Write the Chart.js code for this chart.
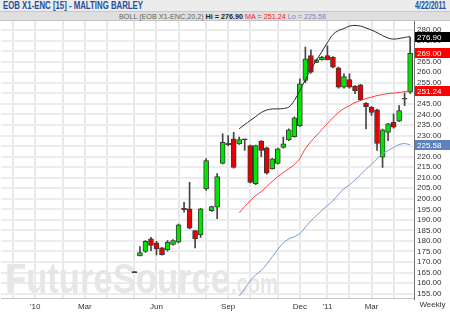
<!DOCTYPE html>
<html>
<head>
<meta charset="utf-8">
<script src="https://cdn.jsdelivr.net/npm/chart.js@4.4.1/dist/chart.umd.min.js"></script>
<style>
  html, body { margin: 0; padding: 0; background: #fff; }
  #wrap { position: relative; width: 450px; height: 312px; overflow: hidden; font-family: Arial, "Liberation Sans", sans-serif; }
  #wrap canvas { position: absolute; left: 0; top: 0; }
  .bar1 { position: absolute; left: 0; top: 0; width: 450px; height: 11px; background: #ececec; border-bottom: 1px solid #c8c8c8; }
  .bar2 { position: absolute; left: 0; top: 12px; width: 450px; height: 8px; background: #dfdfdf; border-bottom: 1px solid #c4c4c4; }
  .fit { position: absolute; white-space: nowrap; transform-origin: 0 50%; }
  #title, #date { top: 0; height: 12px; line-height: 12px; font-weight: bold; font-size: 10px; color: #1f4f9f; }
  #sub { top: 12px; height: 9px; line-height: 9px; font-size: 7px; color: #666; }
  #weekly { position: absolute; left: 415px; width: 35px; top: 300px; text-align: center; font-size: 8px; color: #333; }
</style>
</head>
<body>
<div id="wrap">
  <canvas id="chart" width="450" height="312"></canvas>
  <div class="bar1"></div>
  <div class="bar2"></div>
  <div class="fit" id="title" data-x="3" data-w="140">EOB X1-ENC [15] - MALTING BARLEY</div>
  <div class="fit" id="date" data-x="415" data-w="31">4/22/2011</div>
  <div class="fit" id="sub" data-x="119" data-w="207">BOLL (EOB X1-ENC,20,2) <b style="color:#222">Hi = 276.90</b> <span style="color:#f02020">MA = 251.24</span> <span style="color:#6a8cc6">Lo = 225.58</span></div>
  <div id="weekly">Weekly</div>
</div>
<script>
// weekly candles, first one is the week of 2010-05-07 (week 0 = 2010-01-01)
const firstWeek = 18;

const opens = [165.5, 172.9, 175.0, 181.0, 179.1, 176.7, 175.9, 178.3, 179.4, 195.5,
    195.2, 184.9, 182.9, 204.7, 194.3, 196.0, 216.8, 226.3, 228.4, 226.0,
    228.3, 225.2, 207.1, 227.3, 224.1, 214.2, 216.8, 224.4, 227.9, 229.5,
    234.7, 256.1, 267.9, 264.7, 266.0, 267.9, 267.1, 262.1, 252.9, 256.5,
    253.4, 254.0, 245.3, 243.4, 242.2, 219.7, 231.5, 236.3, 236.8, 247.6,
    250.5];
const highs = [165.5, 177.3, 180.2, 181.7, 179.8, 177.0, 180.2, 180.6, 188.0, 198.3,
    207.8, 185.0, 195.5, 219.0, 196.5, 212.0, 230.8, 230.0, 231.5, 229.2,
    228.3, 225.5, 225.5, 227.6, 224.5, 219.2, 224.0, 229.2, 233.2, 238.8,
    256.9, 271.9, 270.6, 266.2, 267.5, 272.5, 267.4, 262.4, 259.2, 259.2,
    253.7, 254.3, 245.6, 243.7, 242.5, 233.0, 235.8, 240.3, 244.2, 250.2,
    276.5];
const lows = [165.0, 172.9, 174.6, 175.4, 173.4, 173.3, 175.2, 178.0, 179.0, 193.6,
    185.7, 176.7, 181.7, 203.9, 194.0, 190.5, 216.5, 225.0, 214.5, 225.8,
    222.9, 207.5, 206.7, 220.0, 211.7, 214.0, 216.5, 224.0, 227.5, 229.2,
    234.3, 255.0, 259.5, 264.5, 265.7, 265.8, 262.0, 252.5, 252.5, 252.5,
    249.8, 246.5, 233.1, 239.5, 222.9, 214.9, 227.6, 233.5, 236.5, 244.2,
    250.0];
const closes = [165.0, 174.5, 179.8, 177.9, 176.2, 173.5, 179.4, 180.2, 187.6, 194.8,
    186.0, 181.0, 195.2, 218.1, 196.3, 210.5, 226.8, 225.7, 214.9, 228.1,
    227.9, 207.8, 225.2, 222.9, 212.1, 218.9, 223.7, 226.0, 232.7, 238.4,
    254.5, 266.4, 260.0, 265.9, 267.1, 266.0, 262.4, 252.9, 258.0, 252.9,
    251.3, 247.0, 243.7, 241.0, 226.3, 232.7, 235.5, 233.9, 241.8, 247.2,
    269.0];

// Bollinger (20,2) starts at the 20th candle
const bandStart = 19;
const upperBand = [233.2, 235.2, 237.1, 239.0, 240.9, 242.1, 242.6, 242.6, 242.8, 243.5,
    246.6, 251.3, 256.5, 261.3, 265.6, 269.8, 274.1, 277.9, 279.8, 280.7,
    281.9, 282.2, 281.9, 281.0, 280.0, 278.8, 277.4, 276.2, 275.7, 276.0,
    276.5, 276.90];
const maBand = [193.4, 196.3, 199.1, 201.5, 203.4, 205.8, 208.2, 210.5, 212.4, 214.3,
    216.2, 219.1, 223.8, 227.1, 230.0, 232.8, 235.7, 238.5, 240.9, 242.8,
    244.2, 245.6, 246.6, 247.5, 248.2, 248.9, 249.4, 249.9, 250.1, 250.4,
    250.8, 251.24];
const lowerBand = [153.8, 157.4, 161.1, 164.0, 166.0, 169.0, 172.5, 176.0, 179.0, 181.0,
    182.0, 183.5, 186.5, 189.5, 192.0, 194.5, 196.8, 199.0, 202.0, 204.9,
    206.5, 209.0, 211.3, 214.0, 216.4, 219.0, 221.4, 222.9, 224.3, 225.7,
    226.2, 225.58];

// x axis: month starts (week numbers) and their labels
const monthWeeks = [-4, 0, 5, 9, 13, 18, 22, 26, 31, 35, 39, 44, 48, 53, 57, 61, 65];
const monthLabels = ['', "'10", '', 'Mar', '', '', 'Jun', '', '', 'Sep', '', '', 'Dec', "'11", '', 'Mar', ''];

const yTicks = [155, 160, 165, 170, 175, 180, 185, 190, 195, 200, 205, 210, 215,
    220, 225, 230, 235, 240, 245, 250, 255, 260, 265, 270, 275, 280];

const week = i => firstWeek + i;

const bodies = opens.map((o, i) => ({ x: week(i), y: [o, closes[i]] }));
const wicks = highs.map((h, i) => ({ x: week(i), y: [lows[i], h] }));
const bodyColors = opens.map((o, i) => {
    if (Math.abs(closes[i] - o) < 0.6) return "#333333";
    return closes[i] > o ? "#00e400" : "#e80000";
});

const band = arr => arr.map((v, i) => ({ x: week(bandStart + i), y: v }));

const last = arr => arr[arr.length - 1];
const markers = [
    { value: last(upperBand), color: "#000000" },
    { value: last(closes), color: "#ff0000" },
    { value: last(maBand), color: "#ff0000" },
    { value: last(lowerBand), color: "#5f82bd" }
];

function drawFitted(ctx, text, font, x, y, width) {
    ctx.font = font;
    const w = ctx.measureText(text).width;
    ctx.save();
    ctx.translate(x, y);
    ctx.scale(width / w, 1);
    ctx.fillText(text, 0, 0);
    ctx.restore();
}

const extras = {
    id: "extras",
    beforeDatasetsDraw(chart) {
        const ctx = chart.ctx;
        const a = chart.chartArea;
        ctx.save();
        ctx.beginPath();
        ctx.rect(a.left, a.top, a.right - a.left, a.bottom - a.top);
        ctx.clip();
        ctx.fillStyle = "#e6e6e6";
        ctx.textBaseline = "alphabetic";
        ctx.textAlign = "left";
        drawFitted(ctx, "FutureSource", "bold 42px Arial", 5, 293, 225);
        drawFitted(ctx, ".com", "bold 28px Arial", 231, 293, 47);
        ctx.restore();
    },
    afterDraw(chart) {
        const ctx = chart.ctx;
        const y = chart.scales.y;
        ctx.save();
        ctx.font = "8px Arial";
        ctx.textBaseline = "middle";
        ctx.textAlign = "left";
        markers.forEach(m => {
            const py = Math.round(y.getPixelForValue(m.value));
            ctx.fillStyle = m.color;
            ctx.fillRect(415, py - 5, 35, 10);
            ctx.fillStyle = "#ffffff";
            ctx.fillText(m.value.toFixed(2), 417, py + 0.5);
        });
        ctx.restore();
    }
};

Chart.defaults.font.family = "Arial, 'Liberation Sans', sans-serif";

new Chart(document.getElementById("chart"), {
    type: "bar",
    data: {
        datasets: [
            {
                type: "line",
                data: band(upperBand),
                borderColor: "#2a2a2a",
                borderWidth: 1,
                pointRadius: 0,
                tension: 0.3,
                order: 1
            },
            {
                type: "line",
                data: band(maBand),
                borderColor: "#ff3a3a",
                borderWidth: 1,
                pointRadius: 0,
                tension: 0.3,
                order: 1
            },
            {
                type: "line",
                data: band(lowerBand),
                borderColor: "#7b9ad0",
                borderWidth: 1,
                pointRadius: 0,
                tension: 0.3,
                order: 1
            },
            {
                data: bodies,
                backgroundColor: bodyColors,
                borderColor: "#3a3a3a",
                borderWidth: 1,
                borderSkipped: false,
                barThickness: 5,
                minBarLength: 1,
                grouped: false,
                order: 2
            },
            {
                data: wicks,
                backgroundColor: "#444444",
                borderWidth: 0,
                barThickness: 1,
                grouped: false,
                order: 3
            }
        ]
    },
    options: {
        responsive: false,
        animation: false,
        layout: { padding: { left: 1, top: 21, right: 0, bottom: 0 } },
        plugins: {
            legend: { display: false },
            tooltip: { enabled: false }
        },
        scales: {
            x: {
                type: "linear",
                min: -6.2,
                max: 68.7,
                offset: false,
                afterBuildTicks: scale => {
                    scale.ticks = monthWeeks.map(v => ({ value: v }));
                },
                afterFit: scale => { scale.height = 13.5; },
                ticks: {
                    autoSkip: false,
                    maxRotation: 0,
                    padding: 3,
                    color: "#333",
                    font: { size: 8 },
                    callback: v => monthLabels[monthWeeks.indexOf(v)] || ""
                },
                grid: { color: "#e8e8e8", lineWidth: 2, drawTicks: false, offset: false },
                border: { color: "#c4c4c4", width: 1 }
            },
            y: {
                position: "right",
                min: 152.7,
                max: 284.3,
                afterBuildTicks: scale => {
                    scale.ticks = yTicks.map(v => ({ value: v }));
                },
                afterFit: scale => { scale.width = 36; },
                ticks: {
                    autoSkip: false,
                    padding: 3,
                    color: "#333",
                    font: { size: 8 },
                    callback: v => v.toFixed(2)
                },
                grid: { color: "#ececec", lineWidth: 2, drawTicks: false },
                border: { color: "#707070", width: 1 }
            }
        }
    },
    plugins: [extras]
});

// squeeze header texts to the widths they take in the picture
document.querySelectorAll(".fit").forEach(el => {
    el.style.left = el.dataset.x + "px";
    const w = el.getBoundingClientRect().width;
    el.style.transform = "scaleX(" + (el.dataset.w / w) + ")";
});
</script>
</body>
</html>
